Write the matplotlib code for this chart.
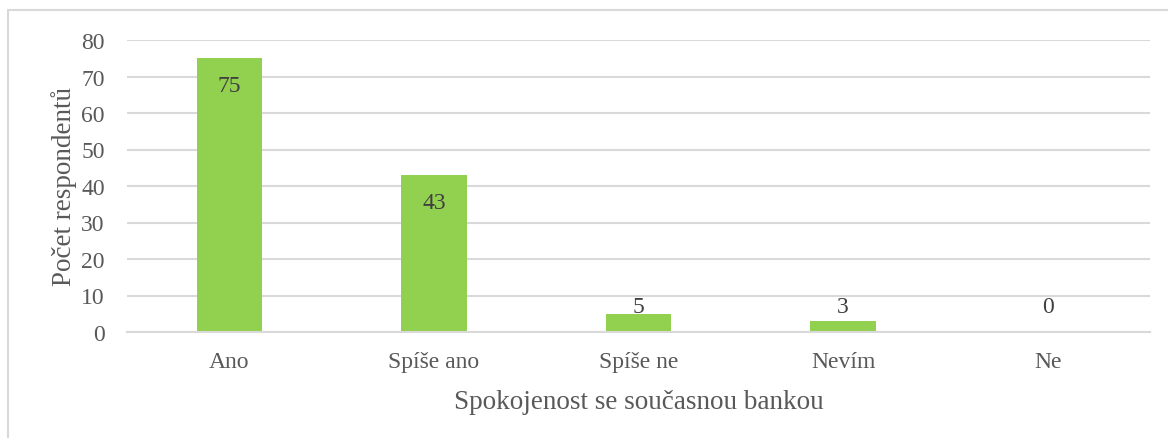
import matplotlib.pyplot as plt
from matplotlib.patches import Rectangle

categories = ['Ano', 'Spíše ano', 'Spíše ne', 'Nevím', 'Ne']
values = [75, 43, 5, 3, 0]

plt.rcParams['font.family'] = ['Liberation Serif', 'DejaVu Serif']
text_color = '#595959'

fig = plt.figure(figsize=(11.68, 4.39), dpi=100)
ax = fig.add_axes([127 / 1168, (439 - 333) / 439, (1150 - 127) / 1168, (333 - 41) / 439])

# chart border (cropped at right and bottom like the original)
fig.patches.append(Rectangle((8 / 1168, -0.05), 1.2, (439 - 11) / 439 + 0.05,
                             transform=fig.transFigure, fill=False,
                             edgecolor='#d9d9d9', linewidth=1.5))

x = range(len(categories))
ax.bar(x, values, width=0.32, color='#92d050', zorder=2)

for xi, v in zip(x, values):
    y = max(v - 7.6, 6.9)
    ax.text(xi, y, str(v), ha='center', va='center', fontsize=17, color='#404040', zorder=3)

ax.set_xlim(-0.5, len(categories) - 0.5)
ax.set_ylim(0, 80)
ax.set_yticks(range(0, 81, 10))
ax.set_xticks(list(x))
ax.set_xticklabels(categories)
ax.grid(axis='y', color='#d9d9d9', linewidth=1.5, zorder=0)
for s in ['top', 'right', 'left']:
    ax.spines[s].set_visible(False)
ax.spines['bottom'].set_color('#d9d9d9')
ax.spines['bottom'].set_linewidth(1.5)
ax.tick_params(axis='both', length=0, labelsize=17, colors=text_color)
ax.tick_params(axis='y', pad=16)
ax.tick_params(axis='x', pad=14)

ax.set_xlabel('Spokojenost se současnou bankou', fontsize=19.5, color=text_color, labelpad=12)
ax.set_ylabel('Počet respondentů', fontsize=19.5, color=text_color, labelpad=3)

fig.savefig('out.png', dpi=100)
